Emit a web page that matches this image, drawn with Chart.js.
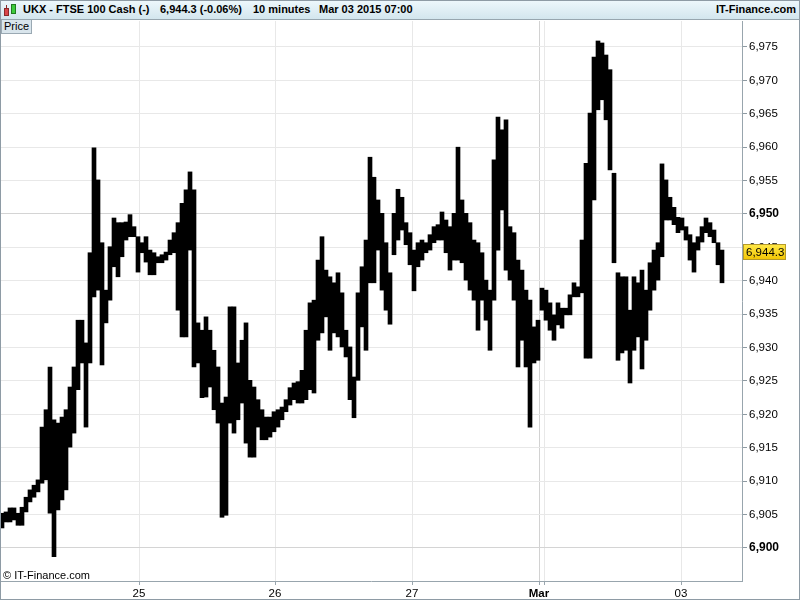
<!DOCTYPE html>
<html>
<head>
<meta charset="utf-8">
<script src="https://cdn.jsdelivr.net/npm/chart.js@4/dist/chart.umd.min.js"></script>
<style>
  html,body{margin:0;padding:0;background:#fff;}
  #wrap{position:relative;width:800px;height:600px;overflow:hidden;font-family:"Liberation Sans",Arial,sans-serif;}
  #frame{position:absolute;left:0;top:0;width:798px;height:598px;border:1px solid #8e9ba5;pointer-events:none;}
  #hdr{position:absolute;left:0;top:0;width:800px;height:20px;background:linear-gradient(#eef8fc,#d3e6ee);border-bottom:1px solid #97a6af;box-sizing:border-box;font-weight:bold;font-size:11px;color:#000;}
  #hdr .t{position:absolute;top:3px;white-space:pre;}
  #price{position:absolute;left:1px;top:20px;height:13px;line-height:13px;padding:0 2px;background:#d9e5ec;border:1px solid #9aa9b3;border-top:none;font-size:11px;}
  #copy{position:absolute;left:3px;top:569px;font-size:11px;color:#000;}
  canvas{position:absolute;left:0;top:0;}
</style>
</head>
<body>
<div id="wrap">
  <canvas id="c" width="800" height="600"></canvas>
  <div id="hdr">
    <div style="position:absolute;left:4px;top:8px;width:5px;height:8px;background:#d9464a;border:1px solid #8a2a2a;box-sizing:border-box"></div>
    <div style="position:absolute;left:6px;top:5px;width:1px;height:3px;background:#8a2a2a"></div>
    <div style="position:absolute;left:11px;top:4px;width:5px;height:10px;background:#3dcc3d;border:1px solid #217a21;box-sizing:border-box"></div>
    <div style="position:absolute;left:13px;top:1px;width:1px;height:17px;background:#217a21;z-index:-1"></div>
    <div class="t" style="left:23px">UKX - FTSE 100 Cash (-)</div>
    <div class="t" style="left:160px">6,944.3 (-0.06%)</div>
    <div class="t" style="left:253px">10 minutes</div>
    <div class="t" style="left:319px">Mar 03 2015 07:00</div>
    <div class="t" style="right:4px">IT-Finance.com</div>
  </div>
  <div id="price">Price</div>
  <div id="copy">© IT-Finance.com</div>
  <div id="frame"></div>
</div>
<script>
// ---- data (10-minute bars grouped into slots: high / low) ----
const highs = [6905.2,6905.4,6906.0,6906.0,6905.2,6906.1,6907.6,6908.7,6909.4,6910.2,
6918.1,6920.7,6927.1,6919.2,6918.7,6919.6,6920.7,6924.1,6927.1,6934.1,
6934.1,6930.7,6944.2,6959.9,6955.1,6945.7,6938.6,6945.1,6949.4,6948.7,
6948.7,6948.8,6949.9,6948.1,6946.6,6945.7,6946.6,6944.6,6944.2,6943.6,
6943.9,6944.3,6946.1,6947.2,6948.7,6951.6,6953.6,6956.3,6953.6,6933.7,
6932.6,6934.6,6932.6,6929.6,6927.1,6921.7,6922.6,6936.1,6936.1,6927.7,
6931.1,6933.7,6925.1,6924.1,6922.2,6920.7,6919.6,6919.6,6920.4,6920.7,
6921.1,6922.2,6924.0,6924.7,6924.9,6926.6,6932.6,6936.7,6937.1,6943.1,
6946.6,6941.6,6940.6,6939.7,6941.2,6938.2,6932.6,6930.1,6925.6,6938.2,
6942.1,6946.1,6958.5,6955.5,6952.1,6950.1,6945.7,6941.2,6950.1,6953.7,
6952.5,6948.7,6947.2,6944.6,6945.7,6946.1,6945.7,6946.9,6948.1,6948.4,
6950.3,6949.1,6948.1,6950.1,6960.0,6952.1,6950.1,6948.7,6946.1,6945.7,
6944.2,6940.1,6938.6,6958.1,6964.5,6962.6,6964.1,6948.1,6947.2,6943.1,
6941.6,6938.6,6937.1,6933.1,6934.1,6938.9,6938.6,6936.7,6934.9,6936.7,
6935.9,6935.9,6937.9,6939.7,6939.1,6946.1,6957.6,6965.1,6973.5,6975.9,
6975.6,6973.8,6971.6,6956.1,6941.2,6940.6,6940.6,6935.6,6940.6,6939.7,
6941.6,6938.6,6942.7,6944.6,6945.7,6957.5,6955.1,6952.5,6951.0,6949.5,
6949.4,6948.1,6946.9,6945.7,6946.6,6948.1,6949.4,6948.7,6947.6,6945.7,
6944.6];
const lows = [6903.0,6903.9,6903.9,6904.2,6903.4,6903.4,6905.4,6906.9,6907.6,6908.4,
6909.7,6910.2,6905.2,6898.7,6905.7,6907.2,6908.7,6915.1,6917.2,6923.7,
6927.7,6918.1,6927.7,6937.6,6938.6,6927.4,6933.7,6937.1,6942.1,6940.6,
6943.6,6946.1,6946.6,6946.6,6941.3,6944.2,6942.8,6940.9,6940.9,6942.7,
6942.7,6943.1,6943.9,6944.2,6935.6,6931.6,6931.6,6944.6,6927.1,6927.7,
6922.5,6922.6,6924.1,6920.7,6918.7,6904.6,6904.9,6918.7,6917.2,6919.2,
6921.7,6915.7,6913.6,6913.6,6918.1,6916.2,6916.2,6916.6,6917.4,6918.1,
6919.2,6920.4,6921.4,6922.2,6921.7,6921.7,6922.2,6923.7,6923.2,6931.1,
6932.2,6934.6,6929.6,6932.2,6931.6,6930.1,6928.6,6922.2,6919.5,6925.1,
6933.1,6929.6,6939.7,6939.7,6944.6,6938.6,6935.6,6933.5,6943.9,6946.1,
6947.6,6945.4,6942.4,6938.5,6942.1,6943.1,6944.2,6944.6,6945.7,6946.1,
6946.1,6944.2,6941.6,6943.1,6943.1,6942.7,6940.1,6938.6,6937.1,6932.6,
6937.1,6934.1,6929.6,6937.1,6944.6,6950.6,6941.6,6940.1,6937.1,6927.1,
6931.1,6927.1,6918.1,6927.7,6928.1,6935.6,6934.1,6932.6,6931.1,6933.4,
6932.9,6934.9,6934.9,6937.6,6937.6,6938.2,6928.4,6928.4,6952.1,6965.6,
6967.1,6964.1,6956.6,6942.7,6928.1,6929.2,6929.6,6924.7,6929.6,6931.6,
6926.8,6931.1,6935.6,6938.6,6940.1,6943.6,6949.1,6949.1,6948.4,6947.2,
6947.6,6946.1,6943.1,6941.3,6944.6,6945.8,6947.2,6946.6,6945.7,6942.4,
6939.7];
const dayTickPos    = [34.25, 68.25, 102.5, 134.25, 135.5, 169.75];
const dayTickLabels = ['25', '26', '27', 'Mar', '', '03'];
const yTickValues = [6900,6905,6910,6915,6920,6925,6930,6935,6940,6945,6950,6955,6960,6965,6970,6975];
const boldTicks = [6900, 6950];
const lastPrice = 6944.3;

const FONT = '"Liberation Sans", Arial, sans-serif';
const points = highs.map((h, i) => ({x: i, y: [lows[i], h]}));

const badge = {
  id: 'badge',
  afterDraw(chart) {
    const ys = chart.scales.y;
    const ctx = chart.ctx;
    const py = Math.round(ys.getPixelForValue(lastPrice));
    const x0 = ys.left + 1, w = 43, h = 16;
    ctx.save();
    const g = ctx.createLinearGradient(0, py - h/2, 0, py + h/2);
    g.addColorStop(0, '#ffe94a'); g.addColorStop(1, '#f2c400');
    ctx.fillStyle = g;
    ctx.fillRect(x0, py - h/2, w, h);
    ctx.strokeStyle = '#b59a2a';
    ctx.lineWidth = 1;
    ctx.strokeRect(x0 + 0.5, py - h/2 + 0.5, w - 1, h - 1);
    ctx.fillStyle = '#000';
    ctx.font = '11.5px ' + FONT;
    ctx.textBaseline = 'middle';
    ctx.textAlign = 'left';
    ctx.fillText(lastPrice.toLocaleString('en-US', {minimumFractionDigits:1}), x0 + 3, py + 1);
    ctx.restore();
  }
};

new Chart(document.getElementById('c'), {
  type: 'bar',
  data: {
    datasets: [{
      data: points,
      backgroundColor: '#000',
      borderWidth: 0,
      barPercentage: 1,
      categoryPercentage: 1,
      minBarLength: 1
    }]
  },
  options: {
    responsive: false,
    animation: false,
    events: [],
    layout: {padding: {top: 21, left: 0, right: 0, bottom: 0}},
    plugins: {legend: {display: false}, tooltip: {enabled: false}, title: {display: false}},
    scales: {
      x: {
        type: 'linear',
        offset: false,
        min: -0.5, max: 185,
        afterBuildTicks: s => { s.ticks = dayTickPos.map(v => ({value: v})); },
        afterFit: s => { s.height = 19; },
        ticks: {
          autoSkip: false, maxRotation: 0, padding: 2,
          color: '#000',
          font: ctx => ({family: FONT, size: 11.5, weight: ctx.index === 3 ? 'bold' : 'normal'}),
          callback: (v, i) => dayTickLabels[i]
        },
        grid: {
          offset: false,
          color: ctx => (ctx.index === 3 ? '#d2d2d2' : '#e8e8e8'),
          tickColor: '#9aa6ae',
          tickLength: 4,
          drawTicks: true
        },
        border: {display: true, color: '#98a5ad'}
      },
      y: {
        position: 'right',
        min: 6895.06, max: 6978.89,
        afterBuildTicks: s => { s.ticks = yTickValues.map(v => ({value: v})); },
        afterFit: s => { s.width = 58; },
        ticks: {
          color: '#000',
          padding: 2,
          font: ctx => ({family: FONT, size: (ctx.tick && boldTicks.includes(ctx.tick.value)) ? 12 : 11.5, weight: (ctx.tick && boldTicks.includes(ctx.tick.value)) ? 'bold' : 'normal'}),
          callback: v => v.toLocaleString('en-US')
        },
        grid: {
          color: ctx => (ctx.tick && boldTicks.includes(ctx.tick.value) ? '#d4d4d4' : '#e8e8e8'),
          tickColor: '#8e9aa2',
          tickLength: 5
        },
        border: {display: true, color: '#98a5ad'}
      }
    }
  },
  plugins: [badge]
});
</script>
</body>
</html>
